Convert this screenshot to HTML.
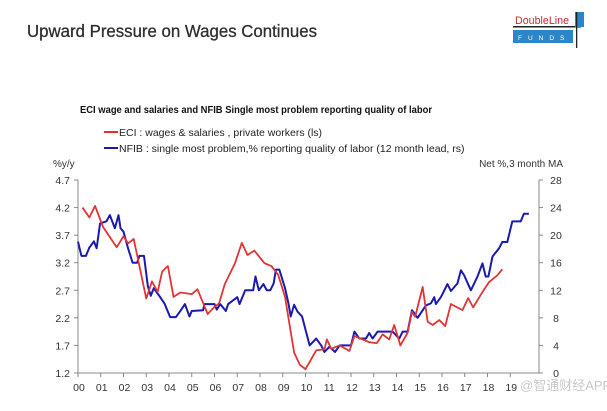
<!DOCTYPE html>
<html><head><meta charset="utf-8"><style>
body{margin:0;background:#fff;width:607px;height:406px;overflow:hidden;font-family:"Liberation Sans",sans-serif;}
</style></head><body>
<svg width="607" height="406" xmlns="http://www.w3.org/2000/svg">
<text x="27" y="37" font-size="17.5" fill="#2e2e2e" stroke="#2e2e2e" stroke-width="0.3" textLength="290" lengthAdjust="spacingAndGlyphs" font-family="Liberation Sans, sans-serif">Upward Pressure on Wages Continues</text>
<g>
<text x="515" y="24" font-size="11" fill="#c8282d" textLength="54" lengthAdjust="spacingAndGlyphs">DoubleLine</text>
<rect x="513" y="26" width="68" height="1.5" fill="#222"/>
<rect x="513" y="30" width="60" height="13" fill="#2a86c8"/>
<text x="518" y="40" font-size="6.5" fill="#fff" letter-spacing="6">FUNDS</text>
<rect x="575" y="12" width="9" height="15" fill="#2a86c8"/>
<rect x="576" y="12" width="1.3" height="36" fill="#222"/>
</g>
<text x="80" y="113" font-size="10.5" font-weight="bold" fill="#111" textLength="352" lengthAdjust="spacingAndGlyphs">ECI wage and salaries and NFIB Single most problem reporting quality of labor</text>
<g>
<line x1="104" y1="132" x2="118" y2="132" stroke="#e03030" stroke-width="2"/>
<text x="119" y="136" font-size="10.5" fill="#222">ECI : wages &amp; salaries , private workers (ls)</text>
<line x1="104" y1="148" x2="118" y2="148" stroke="#1a1aa0" stroke-width="2"/>
<text x="119" y="152" font-size="10.5" fill="#222">NFIB : single most problem,% reporting quality of labor (12 month lead, rs)</text>
</g>
<text x="53" y="167" font-size="10" fill="#333">%y/y</text>
<text x="563" y="167" font-size="10" fill="#333" text-anchor="end">Net %,3 month MA</text>
<g id="chart"></g>
<text x="520" y="390" font-size="13" fill="#bbb" opacity="0.8" font-family="Liberation Sans, Noto Sans CJK SC, sans-serif">@智通财经APP</text>
</svg>
<script>
const yearLabels=["00","01","02","03","04","05","06","07","08","09","10","11","12","13","14","15","16","17","18","19"];
const leftTicks=[1.2,1.7,2.2,2.7,3.2,3.7,4.2,4.7];
const rightTicks=[0,4,8,12,16,20,24,28];
const eciT=[0.2,0.5,0.75,1.1,1.7,2.0,2.2,2.45,3.0,3.25,3.5,3.7,3.95,4.2,4.5,5.0,5.25,5.7,6.0,6.2,6.45,6.9,7.2,7.45,7.75,8.2,8.5,8.8,9.1,9.5,9.75,10.0,10.47,10.83,10.94,11.13,11.5,11.93,12.15,12.8,13.13,13.39,13.68,13.9,14.17,14.49,14.68,14.82,15.15,15.37,15.59,15.88,16.14,16.39,16.9,17.15,17.37,17.75,18.07,18.43,18.65];
const eciV=[4.2,4.02,4.23,3.85,3.48,3.68,3.55,3.63,2.55,2.86,2.67,3.04,3.14,2.58,2.66,2.63,2.72,2.27,2.4,2.46,2.81,3.19,3.56,3.34,3.42,3.19,3.14,2.98,2.58,1.57,1.35,1.27,1.61,1.63,1.81,1.64,1.7,1.6,1.87,1.76,1.74,1.9,1.81,2.07,1.7,1.93,2.31,2.22,2.76,2.13,2.07,2.16,2.05,2.45,2.34,2.56,2.39,2.65,2.85,2.97,3.08];
const nfibT=[0,0.15,0.35,0.5,0.7,0.82,0.97,1.25,1.4,1.62,1.78,1.87,2.0,2.2,2.4,2.6,2.7,2.9,3.07,3.2,3.33,3.55,3.8,4.05,4.3,4.5,4.7,4.9,5.0,5.5,5.55,6.0,6.1,6.25,6.5,6.6,7.0,7.1,7.35,7.7,7.8,7.95,8.15,8.3,8.45,8.6,8.7,8.85,9.1,9.25,9.35,9.5,9.65,9.85,10.18,10.47,10.69,10.83,11.05,11.3,11.5,12.0,12.15,12.37,12.66,12.8,12.95,13.17,13.83,14.12,14.27,14.49,14.68,14.93,15.15,15.29,15.51,15.66,15.73,15.95,16.24,16.39,16.68,16.83,16.97,17.27,17.56,17.78,17.92,18.04,18.22,18.51,18.65,18.87,19.09,19.46,19.6,19.82];
const nfibV=[19.05,17,17,18.2,19.1,18.1,21.7,22,22.9,21,22.9,21,20.5,18.1,16,16,17,17,12.6,11.2,12.3,11.3,10.1,8.1,8.1,9,10,8.2,9,9.1,10,10,9.2,10,9,10,11,10,12,12,14,12,12.9,12,12,13,15,15,12.3,10.1,8.2,9.9,8.9,8.2,4,5,4,3.05,3.8,3.05,4,4,6,5,5,5.8,5,6,6,5,6,6,9.1,8,9.1,9.8,10.1,11,10,11,12.9,11.9,13,14.9,14.2,12,14,15.9,14,14,16.9,18.1,19,19,22,22,23.1,23.1];
const ns="http://www.w3.org/2000/svg";
const X0=78,DX=22.75,YT=180,YB=373,XR=539;
const xS=t=>X0+t*DX;
const yL=v=>YB-(v-1.2)/3.5*(YB-YT);
const yR=v=>YB-v/28*(YB-YT);
const g=document.getElementById('chart');
function mk(tag,attrs){const e=document.createElementNS(ns,tag);for(const k in attrs)e.setAttribute(k,attrs[k]);g.appendChild(e);return e;}
let e;
e=mk('line',{x1:X0,y1:YT,x2:X0,y2:YB,stroke:'#888','stroke-width':1});


e=mk('line',{x1:XR,y1:YT,x2:XR,y2:YB,stroke:'#888','stroke-width':1});


e=mk('line',{x1:X0,y1:YB,x2:XR,y2:YB,stroke:'#888','stroke-width':1});


leftTicks.forEach(v=>{
 mk('line',{x1:X0-4,y1:yL(v),x2:X0,y2:yL(v),stroke:'#888'});
 const t=mk('text',{x:70,y:yL(v)+4,'font-size':10.5,fill:'#333','text-anchor':'end'});t.textContent=v.toFixed(1);
 
 
});
rightTicks.forEach(v=>{
 mk('line',{x1:XR,y1:yR(v),x2:XR+4,y2:yR(v),stroke:'#888'});
 const t=mk('text',{x:556,y:yR(v)+4,'font-size':10.5,fill:'#333','text-anchor':'middle'});t.textContent=v;
 
 
});
yearLabels.forEach((l,i)=>{
 mk('line',{x1:xS(i),y1:YB,x2:xS(i),y2:YB+4,stroke:'#888'});
 const t=mk('text',{x:xS(i)+1,y:391,'font-size':10.5,fill:'#333','text-anchor':'middle'});t.textContent=l;
 
 
});
e=mk('polyline',{points:nfibT.map((t,i)=>xS(t)+','+yR(nfibV[i])).join(' '),fill:'none',stroke:'#1a1ab0','stroke-width':2,'stroke-linejoin':'round'});


e=mk('polyline',{points:eciT.map((t,i)=>xS(t)+','+yL(eciV[i])).join(' '),fill:'none',stroke:'#e03535','stroke-width':1.8,'stroke-linejoin':'round'});


</script>
</body></html>
